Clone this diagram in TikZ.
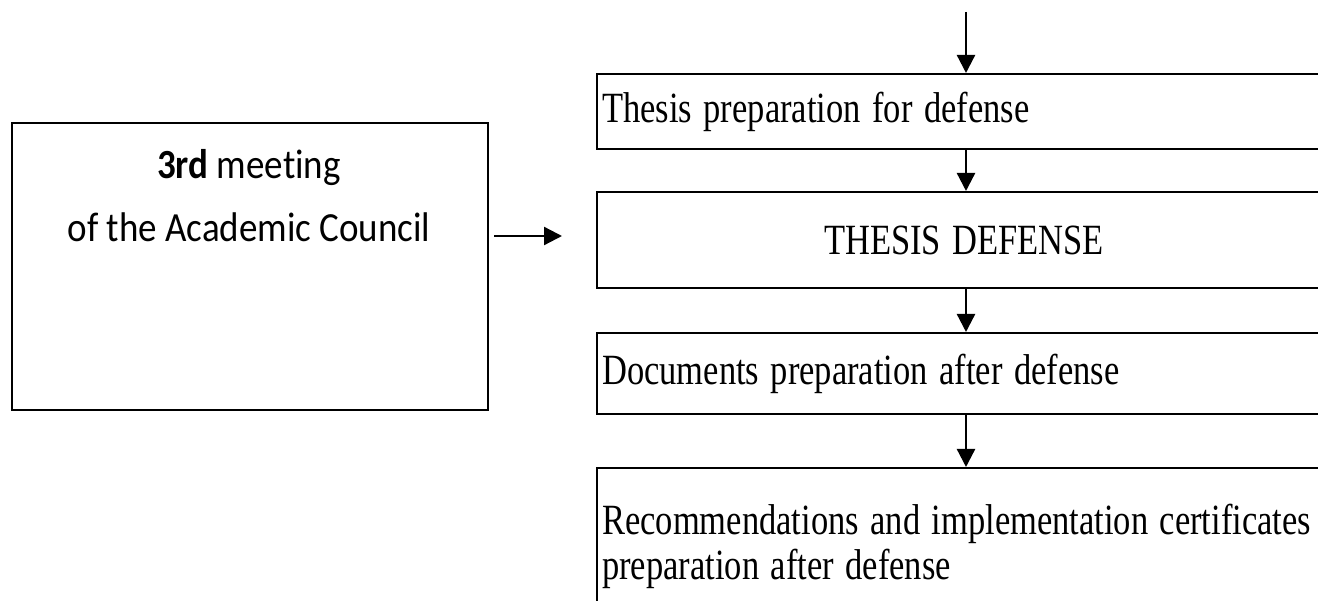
\documentclass[tikz,border=0pt]{standalone}
\usepackage{graphicx}
\usepackage{fontspec}
\setmainfont{Liberation Serif}
\newfontfamily\calibrifont[Ligatures=NoCommon]{Carlito}
\newcommand{\tallt}[1]{\scalebox{1}[1.25]{#1}}
\newcommand{\tallc}[1]{\scalebox{1}[1.12]{#1}}
\usetikzlibrary{arrows.meta}
\begin{document}
\begin{tikzpicture}[x=1pt,y=-1pt,
  boxline/.style={draw=black,line width=2.3pt},
  rbox/.style={boxline,rectangle,anchor=north west,inner sep=0pt,minimum width=734pt,
     text width=728pt,align=left,font=\fontsize{34.5}{45}\selectfont},
  cbox/.style={boxline,rectangle,anchor=north west,inner sep=0pt,minimum width=734pt,
     text width=734pt,align=center,font=\fontsize{34.5}{45}\selectfont},
  arr/.style={line width=2.3pt,-{Triangle[length=18pt,width=18pt]}},
  ltext/.style={align=center,inner sep=0pt,font=\calibrifont\fontsize{37}{63}\selectfont}]
\useasboundingbox (0,0) rectangle (1318,601);
\clip (0,0) rectangle (1318,601);
% right column
\node[rbox,minimum height=75pt] (b1) at (596,73) {\hspace*{2pt}\tallt{Thesis preparation for defense}};
\node[cbox,minimum height=96pt] (b2) at (596,191) {\tallt{THESIS DEFENSE}};
\node[rbox,minimum height=81pt] (b3) at (596,332) {\hspace*{2pt}\tallt{Documents preparation after defense}};
\node[rbox,minimum height=156pt] (b4) at (596,467) {\hspace*{2pt}\tallt{Recommendations and implementation certificates}\\\hspace*{2pt}\tallt{preparation after defense}};
% left box
\node[boxline,rectangle,anchor=north west,minimum width=476pt,minimum height=287pt,inner sep=0pt] (lb) at (11,122) {};
\node[ltext] (lt) at (249,196) {\tallc{\textbf{3rd} meeting}\\\tallc{of the Academic Council}};
% connectors
\coordinate (top) at (966,12);
\coordinate (ha) at (562,236);
\draw[arr] (top) -- (b1.north -| top);
\draw[arr] (b1.south -| top) -- (b2.north -| top);
\draw[arr] (b2.south -| top) -- (b3.north -| top);
\draw[arr] (b3.south -| top) -- (b4.north -| top);
\draw[arr] ([xshift=5pt]lb.east |- ha) -- (ha);
\end{tikzpicture}
\end{document}
